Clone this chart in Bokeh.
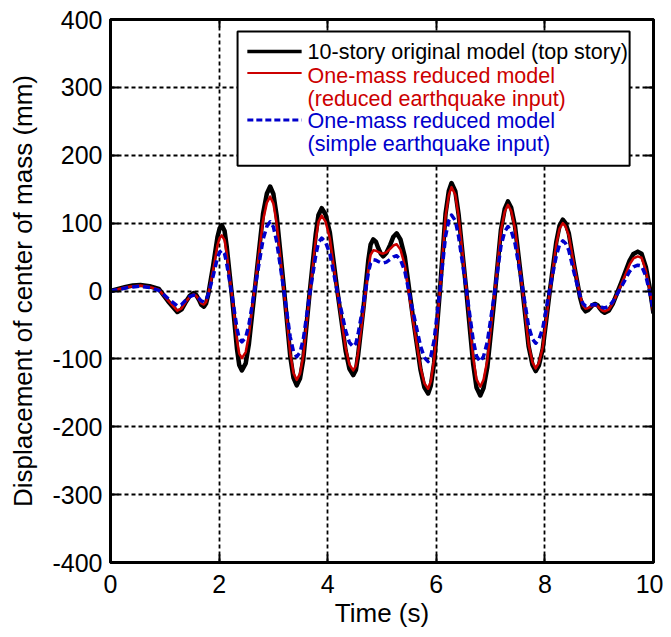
from bokeh.plotting import figure
from bokeh.models import (LinearAxis, Range1d, FixedTicker, BoxAnnotation, Label,
                          Arrow, CustomJSTickFormatter)
from bokeh.embed import file_html
from bokeh.resources import INLINE

# ---------------- data ----------------
time_s = [0, 0.14, 0.28, 0.41, 0.55, 0.72, 0.89, 1.06, 1.23, 1.31, 1.38, 1.46, 1.53,
          1.58, 1.63, 1.67, 1.72, 1.76, 1.80, 1.89, 1.97, 2.01, 2.05,
          2.10, 2.14, 2.24, 2.33, 2.37, 2.42,
          2.49, 2.55, 2.68, 2.81, 2.88, 2.94,
          3.00, 3.06, 3.19, 3.31, 3.37, 3.43,
          3.49, 3.55, 3.66, 3.78, 3.83, 3.89,
          3.96, 4.04, 4.18, 4.33, 4.40, 4.47,
          4.52, 4.56, 4.66, 4.75, 4.79, 4.84,
          4.89, 4.93, 4.98, 5.02, 5.08, 5.15, 5.21, 5.27,
          5.34, 5.42, 5.56, 5.71, 5.78, 5.85,
          5.90, 5.96, 6.07, 6.17, 6.23, 6.28,
          6.35, 6.41, 6.55, 6.68, 6.74, 6.81,
          6.87, 6.94, 7.07, 7.19, 7.26, 7.32,
          7.38, 7.45, 7.58, 7.70, 7.77, 7.83,
          7.89, 7.96, 8.08, 8.21, 8.27, 8.33,
          8.38, 8.44, 8.54, 8.65, 8.70, 8.75,
          8.79, 8.84, 8.88, 8.92, 8.97, 9.01, 9.06, 9.10,
          9.18, 9.25, 9.41, 9.56, 9.63, 9.71,
          9.78, 9.86, 9.93, 10.0]

original_top = [0, 3, 6, 8, 9, 7, 3, -15, -31, -27, -17, -7, -3,
                -6, -13, -20, -23, -18.4, -5.5, 37, 79.5, 92.4, 97,
                88.9, 65.8, -10, -85.8, -108.9, -117,
                -106.7, -77.4, 18.5, 114.4, 143.7, 154,
                142.9, 111.2, 7.5, -96.2, -127.9, -139,
                -129.1, -100.9, -8.5, 83.9, 112.1, 122,
                112.7, 86.1, -1, -88.1, -114.7, -124,
                -116.4, -94.8, -24, 46.8, 68.4, 76,
                72.3, 63.5, 54.7, 51, 56, 68, 80, 85,
                76, 50.5, -33, -116.5, -142, -151,
                -139.2, -105.7, 4, 113.7, 147.2, 159,
                147.1, 113.3, 2.5, -108.3, -142.1, -154,
                -143.1, -112.2, -11, 90.2, 121.1, 132,
                122.5, 95.5, 7, -81.5, -108.5, -118,
                -109.5, -85.4, -6.5, 72.4, 96.5, 105,
                99.9, 85.3, 37.5, -10.3, -24.9, -30,
                -28.4, -24.5, -20.6, -19, -20.9, -25.5, -30.1, -32,
                -28.6, -18.9, 13, 44.9, 54.6, 58,
                55, 35, 5, -33]

reduced_input = [0, 2.5, 5.5, 7, 8, 6, 2, -14, -29, -25.5, -17, -8.5, -5,
                 -7.2, -12.5, -17.8, -20, -16.1, -5.1, 31, 67.1, 78.1, 82,
                 75.1, 55.6, -8.5, -72.6, -92.1, -99,
                 -90, -64.3, 20, 104.3, 130, 139,
                 128.7, 99.6, 4, -91.6, -120.7, -131,
                 -121.8, -95.7, -10, 75.7, 101.8, 111,
                 102.3, 77.7, -3, -83.7, -108.3, -117,
                 -110.3, -91.2, -28.5, 34.2, 53.3, 60,
                 59.3, 57.5, 55.7, 55, 57, 62, 67, 69,
                 60.9, 37.9, -37.5, -112.9, -135.9, -144,
                 -132.7, -100.6, 4.5, 109.6, 141.7, 153,
                 141.8, 110.1, 6, -98.1, -129.8, -141,
                 -130.8, -101.9, -7, 87.9, 116.8, 127,
                 117.8, 91.8, 6.5, -78.8, -104.8, -114,
                 -105.9, -82.8, -7, 68.8, 91.9, 100,
                 95.2, 81.6, 37, -7.6, -21.2, -26,
                 -25.3, -23.5, -21.7, -21, -22.3, -25.5, -28.7, -30,
                 -26.9, -18.2, 10.5, 39.2, 47.9, 51,
                 49, 30, 2, -33]

simple_input = [0, 2, 4.5, 6, 7, 5, 1, -11, -22, -19.7, -14, -8.3, -6,
                -7.5, -11, -14.5, -16, -13.1, -4.9, 22, 48.9, 57.1, 60,
                54.9, 40.3, -7.5, -55.3, -69.9, -75,
                -68.3, -49.2, 13.5, 76.2, 95.3, 102,
                94.4, 72.9, 2.5, -67.9, -89.4, -97,
                -90.4, -71.4, -9.5, 52.4, 71.4, 78,
                71.9, 54.6, -2, -58.6, -75.9, -82,
                -77.1, -63.3, -18, 27.3, 41.1, 46,
                45.3, 43.5, 41.7, 41, 42.6, 46.5, 50.4, 52,
                46.1, 29.2, -26, -81.2, -98.1, -104,
                -95.8, -72.5, 4, 80.5, 103.8, 112,
                103.8, 80.5, 4, -72.5, -95.8, -104,
                -96.4, -74.9, -4.5, 65.9, 87.4, 95,
                88.5, 69.9, 9, -51.9, -70.5, -77,
                -71.3, -55, -1.5, 51.9, 68.3, 74,
                70.4, 60, 26, -8, -18.4, -22,
                -21.7, -21, -20.3, -20, -20.7, -22.5, -24.3, -25,
                -22.6, -15.8, 6.5, 28.8, 35.6, 38,
                37, 22, -2, -30]

x_ticks = [0, 2, 4, 6, 8, 10]
y_ticks = [-400, -300, -200, -100, 0, 100, 200, 300, 400]

legend_labels = ["10-story original model (top story)",
                 "One-mass reduced model",
                 "(reduced earthquake input)",
                 "One-mass reduced model",
                 "(simple earthquake input)"]

BLACK = "#000000"
RED = "#cc0000"
BLUE = "#0000cc"
FONT = "Liberation Sans"

# ---------------- figure ----------------
p = figure(width=663, height=630, output_backend="svg", toolbar_location=None,
           x_range=Range1d(0, 10), y_range=Range1d(-400, 400),
           min_border_left=110, min_border_right=10, min_border_top=19,
           min_border_bottom=60, background_fill_color="white",
           border_fill_color="white")

p.outline_line_color = "black"
p.outline_line_width = 3

plain = CustomJSTickFormatter(code="return String(tick);")
for ax in (p.xaxis[0], p.yaxis[0]):
    ax.axis_line_width = 3
    ax.major_tick_in = 8
    ax.major_tick_out = 0
    ax.major_tick_line_width = 2
    ax.minor_tick_line_color = None
    ax.formatter = plain
    ax.major_label_text_font = FONT
    ax.major_label_text_font_size = "25px"
    ax.major_label_text_color = "black"
    ax.axis_label_text_font = FONT
    ax.axis_label_text_font_size = "26px"
    ax.axis_label_text_font_style = "normal"
    ax.axis_label_text_color = "black"

p.xaxis.ticker = FixedTicker(ticks=x_ticks)
p.yaxis.ticker = FixedTicker(ticks=y_ticks)
p.xaxis.axis_label = "Time (s)"
p.yaxis.axis_label = "Displacement of center of mass (mm)"
p.xaxis.major_label_standoff = 12
p.xaxis.axis_label_standoff = 2
p.yaxis.major_label_standoff = 8
p.yaxis.axis_label_standoff = 11

# top / right axes with inward ticks only
top = LinearAxis(ticker=FixedTicker(ticks=x_ticks),
                 formatter=CustomJSTickFormatter(code="return ''"),
                 axis_line_width=3, major_tick_in=8, major_tick_out=0,
                 major_tick_line_width=2, minor_tick_line_color=None,
                 major_label_text_font_size="1px", major_label_standoff=0)
right = LinearAxis(ticker=FixedTicker(ticks=y_ticks),
                   formatter=CustomJSTickFormatter(code="return ''"),
                   axis_line_width=3, major_tick_in=8, major_tick_out=0,
                   major_tick_line_width=2, minor_tick_line_color=None,
                   major_label_text_font_size="1px", major_label_standoff=0)
p.add_layout(top, "above")
p.add_layout(right, "right")

p.xgrid.ticker = FixedTicker(ticks=x_ticks)
p.ygrid.ticker = FixedTicker(ticks=y_ticks)
p.grid.grid_line_color = "black"
p.grid.grid_line_dash = "4 3"
p.grid.grid_line_width = 1.8
p.grid.grid_line_alpha = 1.0

# ---------------- data lines ----------------
p.line(time_s, original_top, line_color=BLACK, line_width=4.5, line_join="round")
p.line(time_s, reduced_input, line_color=RED, line_width=2.5, line_join="round")
p.line(time_s, simple_input, line_color=BLUE, line_width=3.5, line_dash="7 4",
       line_join="round")

# ---------------- legend (custom, coloured texts) ----------------
box = BoxAnnotation(left=2.34, right=9.56, bottom=184.5, top=382.5,
                    fill_color="white", fill_alpha=1.0,
                    line_color="black", line_width=2, line_alpha=1.0)
p.add_layout(box)

sample_x0, sample_x1 = 2.52, 3.52
for yv, col, w, dash in [(353, BLACK, 3.5, "solid"), (321, RED, 2, "solid"),
                         (252, BLUE, 3, "6 3")]:
    p.add_layout(Arrow(end=None, x_start=sample_x0, y_start=yv, x_end=sample_x1,
                       y_end=yv, line_color=col, line_width=w, line_dash=dash))

text_x = 3.63
for txt, yv, col in zip(legend_labels, [352, 317, 283, 250, 216],
                        [BLACK, RED, RED, BLUE, BLUE]):
    p.add_layout(Label(x=text_x, y=yv, text=txt, text_color=col,
                       text_font=FONT, text_font_size="21.5px",
                       text_baseline="middle", text_align="left"))

open("out.html", "w").write(file_html(p, INLINE))
